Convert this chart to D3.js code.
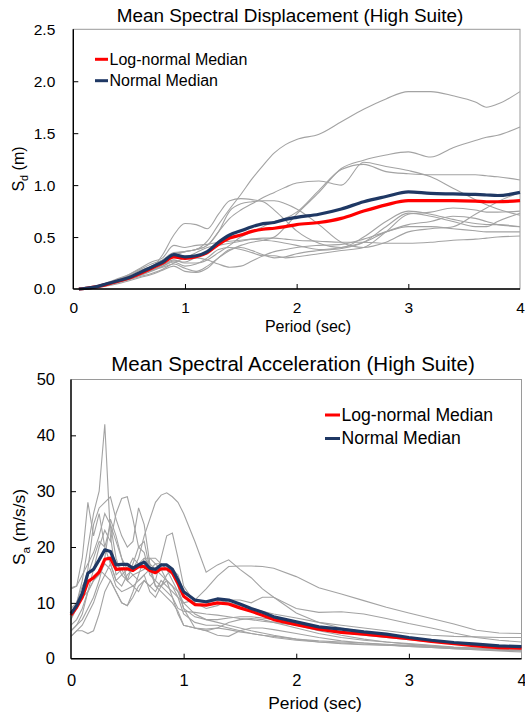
<!DOCTYPE html>
<html>
<head>
<meta charset="utf-8">
<script src="https://cdn.jsdelivr.net/npm/d3@7"></script>
<style>
  html, body { margin: 0; padding: 0; background: #fff; }
  svg { display: block; }
  text { font-family: "Liberation Sans", Arial, sans-serif; fill: #000; }
</style>
</head>
<body>
<svg id="chart" width="525" height="713"></svg>
<script>
// ---------------- DATA ----------------
// Top chart: spectral displacement (m)
const periodsSd = [0.05,0.1,0.2,0.3,0.4,0.5,0.6,0.7,0.8,0.9,1.0,1.1,1.2,1.3,1.4,1.5,1.6,1.7,1.8,1.9,2.0,2.2,2.4,2.6,2.8,3.0,3.2,3.4,3.6,3.7,3.8,4.0];
const sdLogNormalMedian = [0,0.005,0.02,0.045,0.075,0.105,0.15,0.2,0.25,0.31,0.295,0.31,0.35,0.43,0.49,0.52,0.555,0.575,0.585,0.60,0.62,0.64,0.68,0.75,0.81,0.85,0.85,0.85,0.845,0.84,0.84,0.85];
const sdNormalMedian    = [0,0.005,0.02,0.05,0.08,0.11,0.16,0.21,0.26,0.33,0.31,0.32,0.36,0.45,0.52,0.56,0.60,0.63,0.64,0.67,0.69,0.72,0.77,0.84,0.89,0.935,0.92,0.915,0.91,0.905,0.90,0.93];
const sdRecord1  = [0,0.005,0.02,0.05,0.09,0.13,0.18,0.22,0.27,0.32,0.36,0.38,0.46,0.62,0.77,0.91,1.06,1.19,1.31,1.39,1.44,1.49,1.61,1.73,1.83,1.90,1.90,1.86,1.80,1.75,1.78,1.90];
const sdRecord2  = [0,0.004,0.015,0.04,0.07,0.1,0.14,0.18,0.21,0.24,0.2,0.17,0.22,0.3,0.37,0.42,0.45,0.47,0.5,0.6,0.72,0.93,1.16,1.24,1.29,1.32,1.27,1.36,1.43,1.46,1.48,1.56];
const sdRecord3  = [0,0.005,0.02,0.06,0.1,0.14,0.19,0.24,0.28,0.34,0.36,0.38,0.42,0.55,0.68,0.76,0.82,0.88,0.93,0.98,1.02,1.04,1.0,1.22,1.18,1.14,1.08,0.97,0.86,0.81,0.77,0.71];
const sdRecord4  = [0,0.004,0.015,0.04,0.07,0.1,0.14,0.18,0.23,0.28,0.25,0.25,0.28,0.35,0.42,0.5,0.55,0.6,0.65,0.68,0.74,0.95,1.15,1.2,1.13,1.11,1.1,1.1,1.1,1.09,1.08,1.05];
const sdRecord5  = [0,0.005,0.02,0.05,0.08,0.11,0.15,0.2,0.33,0.52,0.63,0.62,0.58,0.72,0.85,0.87,0.86,0.84,0.76,0.66,0.56,0.44,0.40,0.5,0.65,0.75,0.72,0.67,0.63,0.62,0.62,0.60];
const sdRecord6  = [0,0.004,0.02,0.05,0.09,0.13,0.17,0.22,0.28,0.35,0.36,0.38,0.42,0.55,0.75,0.82,0.84,0.85,0.85,0.82,0.77,0.62,0.45,0.4,0.45,0.55,0.58,0.6,0.72,0.78,0.84,0.93];
const sdRecord7  = [0,0.004,0.015,0.035,0.06,0.09,0.12,0.15,0.19,0.25,0.3,0.35,0.4,0.42,0.44,0.46,0.48,0.49,0.49,0.48,0.47,0.46,0.45,0.45,0.44,0.44,0.45,0.47,0.48,0.49,0.5,0.51];
const sdRecord8  = [0,0.004,0.015,0.04,0.07,0.1,0.13,0.17,0.22,0.27,0.26,0.3,0.28,0.24,0.21,0.22,0.27,0.32,0.36,0.38,0.4,0.42,0.43,0.48,0.55,0.6,0.6,0.58,0.56,0.55,0.55,0.55];
const sdRecord9  = [0,0.003,0.012,0.03,0.05,0.08,0.11,0.14,0.18,0.22,0.17,0.16,0.2,0.3,0.38,0.4,0.37,0.33,0.3,0.31,0.34,0.37,0.39,0.45,0.6,0.73,0.7,0.65,0.6,0.6,0.65,0.73];
const sdRecord10 = [0,0.005,0.02,0.05,0.09,0.14,0.2,0.26,0.3,0.42,0.4,0.42,0.43,0.45,0.46,0.47,0.48,0.47,0.46,0.44,0.42,0.38,0.4,0.45,0.55,0.62,0.65,0.7,0.68,0.65,0.62,0.6];
const sdRecord11 = [0,0.004,0.015,0.04,0.07,0.1,0.14,0.18,0.22,0.26,0.22,0.24,0.3,0.38,0.4,0.38,0.35,0.32,0.32,0.3,0.31,0.34,0.37,0.4,0.55,0.72,0.74,0.78,0.76,0.74,0.74,0.75];
const sdRecords = [sdRecord1,sdRecord2,sdRecord3,sdRecord4,sdRecord5,sdRecord6,sdRecord7,sdRecord8,sdRecord9,sdRecord10,sdRecord11];

// Bottom chart: spectral acceleration (m/s/s)
const periodsSa = [0,0.05,0.1,0.15,0.2,0.25,0.3,0.35,0.4,0.45,0.5,0.55,0.6,0.65,0.7,0.75,0.8,0.85,0.9,0.95,1.0,1.1,1.2,1.3,1.4,1.5,1.6,1.7,1.8,2.0,2.2,2.4,2.6,2.8,3.0,3.2,3.4,3.6,3.8,4.0];
const saLogNormalMedian = [7.8,9.2,11,13.8,14.5,15.5,17.8,18.0,16.0,16.1,16.1,15.8,16.5,16.5,15.8,15.4,16.1,16.1,15.4,13.5,11.2,9.7,9.6,10.0,9.8,9.1,8.5,7.8,7.0,6.1,5.3,4.7,4.4,4.0,3.6,3.1,2.7,2.3,2.0,1.9];
const saNormalMedian    = [8.1,9.5,11.7,15.3,16,17.7,19.5,19.2,16.8,16.9,16.9,16.2,16.8,17.3,16.2,16.0,16.8,16.8,16.0,14.1,12.0,10.5,10.2,10.7,10.5,9.8,9.0,8.3,7.5,6.6,5.7,5.3,4.8,4.4,3.8,3.3,2.9,2.6,2.3,2.15];
const saRecord1  = [8,10,14,20,26,30,42,22,15,16,14,15,14,15,12,11,13,14,13,11,8,6.5,6,6,5.5,5,4.5,4.2,3.8,3.3,3.0,2.8,2.6,2.4,2.2,2.0,1.8,1.6,1.5,1.4];
const saRecord2  = [12.5,13,18,28,22,26,20,24,18,15,14,13,12,14,13,12,14,13,12,11,10,8,7,6.5,6,5.5,5,4.6,4.2,3.5,3.0,2.7,2.5,2.4,2.3,2.1,1.9,1.8,1.6,1.5];
const saRecord3  = [7,9,12,16,24,27,28,29,25,22,20,21,27,24,17,13,13,15,16,15,12,10.5,10,10.5,10,9.5,9,8.5,8,7.3,6.5,6,5.5,5,4.5,4.2,4.0,3.9,3.8,3.8];
const saRecord4  = [5,6,8,12,16,20,23,21,26,28.7,29,25,20,21,16,13,12,11,10,8.5,6,5.5,5.3,5.5,5.2,4.8,4.5,4.2,4.0,3.5,3.2,3.0,2.8,2.6,2.4,2.2,2.0,1.8,1.7,1.6];
const saRecord5  = [6,7,9,12,14,16,15,17,14,13,15,16,18,22,25,28,29.3,29.7,29,28,26,21,15.5,16.8,17.7,16,14.5,12.5,11,8.2,6.5,5.5,4.8,4.2,3.6,3.2,2.8,2.5,2.2,2.0];
const saRecord6  = [4,5,6,8,10,13,15,14,12,10,9.5,11,13,14,13,14,18,22,22.5,18,13,10,9,9.5,10.5,10.5,10,11,11,9,8.3,8.4,8.0,7.2,6.3,5.5,4.6,3.8,3.3,3.0];
const saRecord7  = [9,10,13,15,18,21,20,17,14,15,16,18,17,18,17,16,15,14,13,12,10,10.5,12.5,14.8,16.5,16.6,16.6,16.5,16.2,14.7,12.7,11.6,10.4,9.2,8.2,7.2,6.2,5.1,4.6,4.5];
const saRecord8  = [4,5,5,4.5,5,8,12,14,12,10,9.5,12,15,18,18,17,16,14,11,9,8.5,8.3,8,7.8,7.5,7.2,7,6.7,6.5,6,5.3,4.7,4.2,3.8,3.4,3.0,2.7,2.4,2.2,2.0];
const saRecord9  = [8,9,11,12,14,15,17,16,13,12,12.5,13,14,15,16,17,17,16,15,13,9,5.5,5,5.5,6.5,7,7.2,7.0,6.5,5.5,4.5,3.8,3.3,3.0,2.7,2.4,2.1,1.9,1.7,1.5];
const saRecord10 = [5,6,7,9,11,14,18,25,22,18,14,17,20,19,15,14,13,12,11,8,6,5.5,5,4.2,4.0,5.0,5.5,5.5,5.2,4.5,3.8,3.2,2.8,2.5,2.2,2.0,1.8,1.6,1.4,1.2];
const saRecord11 = [12.7,13,15,17,19,22,26,24,21,18,16,15,15.5,16,18,18,17,16,14,12,9,7.5,7,7,7.3,7.5,7.5,7.3,7,6,5,4.2,3.5,3.0,2.6,2.3,2.0,1.8,1.6,1.4];
const saRecords = [saRecord1,saRecord2,saRecord3,saRecord4,saRecord5,saRecord6,saRecord7,saRecord8,saRecord9,saRecord10,saRecord11];

const xTickValues = [0,1,2,3,4];
const sdTickValues = [0,0.5,1.0,1.5,2.0,2.5];
const saTickValues = [0,10,20,30,40,50];
const legendLabels = ["Log-normal Median","Normal Median"];
const titles = ["Mean Spectral Displacement (High Suite)","Mean Spectral Acceleration (High Suite)"];

// ---------------- DRAW ----------------
const RED = "#ff0000", NAVY = "#1f3864", GRAY = "#a3a3a3";
const svg = d3.select("#chart");

function drawPanel(cfg) {
  const x = d3.scaleLinear().domain([0, 4]).range([cfg.x0, cfg.x1]);
  const y = d3.scaleLinear().domain([0, cfg.ymax]).range([cfg.y1, cfg.y0]);
  const g = svg.append("g");

  // frame (top/right gray)
  g.append("rect").attr("x", cfg.x0).attr("y", cfg.y0)
    .attr("width", cfg.x1 - cfg.x0).attr("height", cfg.y1 - cfg.y0)
    .attr("fill", "none").attr("stroke", "#9a9a9a").attr("stroke-width", 1);

  const line = d3.line()
    .x((d, i) => x(cfg.periods[i]))
    .y(d => y(d))
    .curve(cfg.curve);

  g.append("g").selectAll("path").data(cfg.records).join("path")
    .attr("d", line).attr("fill", "none")
    .attr("stroke", GRAY).attr("stroke-width", 1.1);

  g.append("path").datum(cfg.logMed).attr("d", line)
    .attr("fill", "none").attr("stroke", RED).attr("stroke-width", 3.2)
    .attr("stroke-linejoin", "round");
  g.append("path").datum(cfg.normMed).attr("d", line)
    .attr("fill", "none").attr("stroke", NAVY).attr("stroke-width", 3.2)
    .attr("stroke-linejoin", "round");

  // axes
  const xAxis = d3.axisBottom(x).tickValues(xTickValues).tickFormat(d3.format("d"))
    .tickSizeInner(-5).tickSizeOuter(0).tickPadding(cfg.xPad);
  const gx = g.append("g").attr("transform", `translate(0,${cfg.y1})`).call(xAxis);
  gx.select(".domain").remove();
  gx.selectAll("text").attr("font-size", cfg.tickFs).attr("font-family", null).attr("fill", "#000");
  gx.selectAll("line").attr("stroke", "#000").attr("stroke-width", 1);
  gx.selectAll(".tick").filter(d => d === 0 || d === 4).select("line").remove();

  const yAxis = d3.axisLeft(y).tickValues(cfg.yTicks).tickFormat(cfg.yFmt)
    .tickSizeInner(-5).tickSizeOuter(0).tickPadding(cfg.yPad);
  const gy = g.append("g").attr("transform", `translate(${cfg.x0},0)`).call(yAxis);
  gy.select(".domain").remove();
  gy.selectAll("text").attr("font-size", cfg.tickFs).attr("font-family", null).attr("fill", "#000");
  gy.selectAll("line").attr("stroke", "#000").attr("stroke-width", 1);
  gy.selectAll(".tick").filter(d => d === 0 || d === cfg.ymax).select("line").remove();

  // black left & bottom axis lines
  g.append("line").attr("x1", cfg.x0).attr("x2", cfg.x0).attr("y1", cfg.y0).attr("y2", cfg.y1)
    .attr("stroke", "#000").attr("stroke-width", 1.4);
  g.append("line").attr("x1", cfg.x0).attr("x2", cfg.x1).attr("y1", cfg.y1).attr("y2", cfg.y1)
    .attr("stroke", "#000").attr("stroke-width", 1.4);

  // title
  g.append("text").attr("x", cfg.titleX).attr("y", cfg.titleY)
    .attr("text-anchor", "middle").attr("font-size", cfg.titleFs).text(cfg.title);

  // x label
  g.append("text").attr("x", cfg.xLabX).attr("y", cfg.xLabY)
    .attr("text-anchor", "middle").attr("font-size", cfg.labFs).text("Period (sec)");

  // y label with subscript
  const yl = g.append("text")
    .attr("transform", `translate(${cfg.yLabX},${cfg.yLabY}) rotate(-90)`)
    .attr("text-anchor", "middle").attr("font-size", cfg.labFs);
  const sh = cfg.labFs * 0.28;
  yl.append("tspan").text("S");
  yl.append("tspan").attr("font-size", cfg.labFs * 0.68).attr("dy", sh).text(cfg.sub);
  yl.append("tspan").attr("dy", -sh).text(" " + cfg.unit);

  // legend
  const colors = [RED, NAVY];
  legendLabels.forEach((lab, i) => {
    const ly = cfg.legY + i * cfg.legGap;
    g.append("line").attr("x1", cfg.legX).attr("x2", cfg.legX + cfg.legLen)
      .attr("y1", ly).attr("y2", ly).attr("stroke", colors[i]).attr("stroke-width", 3);
    g.append("text").attr("x", cfg.legX + cfg.legLen + 1.5).attr("y", ly + cfg.legFs * 0.34)
      .attr("font-size", cfg.legFs).text(lab);
  });
}

drawPanel({
  periods: periodsSd, records: sdRecords, logMed: sdLogNormalMedian, normMed: sdNormalMedian,
  ymax: 2.5, yTicks: sdTickValues, yFmt: d3.format(".1f"),
  x0: 73.3, x1: 520, y0: 29.3, y1: 289,
  curve: d3.curveMonotoneX,
  tickFs: 15.5, xPad: 13, yPad: 18,
  title: titles[0], titleX: 290, titleY: 22, titleFs: 18.9,
  labFs: 16, xLabX: 308, xLabY: 332, yLabX: 24, yLabY: 169, sub: "d", unit: "(m)",
  legX: 95, legLen: 13, legY: 59.3, legGap: 21.4, legFs: 16
});

drawPanel({
  periods: periodsSa, records: saRecords, logMed: saLogNormalMedian, normMed: saNormalMedian,
  ymax: 50, yTicks: saTickValues, yFmt: d3.format("d"),
  x0: 71, x1: 521.5, y0: 379.5, y1: 658.7,
  curve: d3.curveLinear,
  tickFs: 16.5, xPad: 16, yPad: 16,
  title: titles[1], titleX: 293, titleY: 370.7, titleFs: 20.5,
  labFs: 17.4, xLabX: 315, xLabY: 709, yLabX: 25, yLabY: 527, sub: "a", unit: "(m/s/s)",
  legX: 325, legLen: 15, legY: 415, legGap: 23.5, legFs: 17.6
});
</script>
</body>
</html>
